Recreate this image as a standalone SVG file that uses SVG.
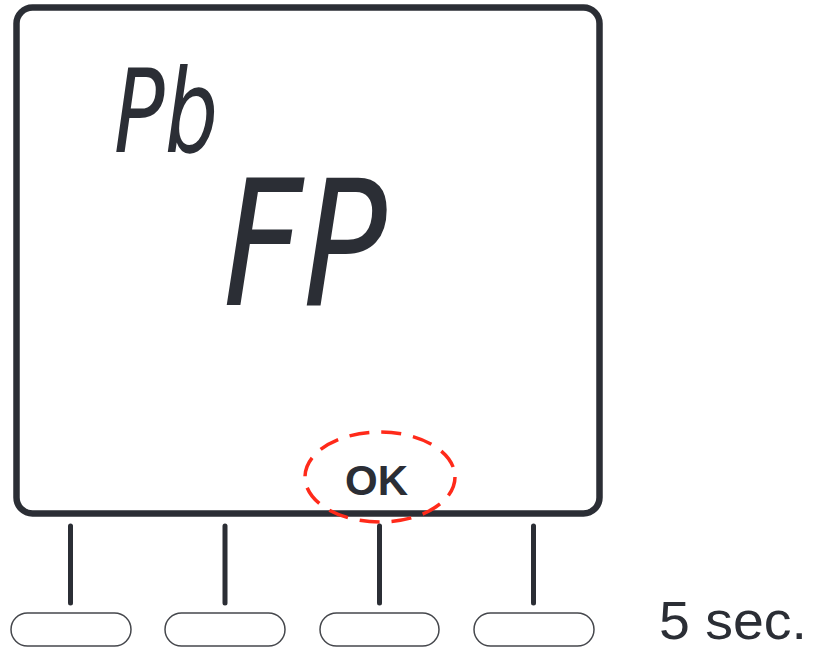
<svg xmlns="http://www.w3.org/2000/svg" width="815" height="650" viewBox="0 0 815 650">
  <style>
    .frame { fill: #ffffff; stroke: #2b2e35; stroke-width: 6.5; }
    .btn { fill: #ffffff; stroke: #45474c; stroke-width: 1.5; }
    .stem { stroke: #2b2e35; stroke-width: 5; stroke-linecap: round; fill: none; }
    .seg { font-family: "DejaVu Sans", "Liberation Sans", sans-serif; font-style: italic; fill: #2b2e35; }
    .ok { font-family: "Liberation Sans", Arial, sans-serif; font-weight: bold; font-size: 42px; fill: #2b2e35; }
    .lbl { font-family: "Liberation Sans", Arial, sans-serif; font-size: 53px; fill: #2b2e35; }
    .hl { fill: none; stroke: #ff2a1a; stroke-width: 3.5; stroke-dasharray: 20 12; }
  </style>
  <g id="display">
    <rect class="frame" x="16.5" y="7.5" width="583" height="506" rx="16" ry="16"/>
    <text class="seg" x="114" y="152" font-size="116" textLength="104" lengthAdjust="spacingAndGlyphs">Pb</text>
    <text class="seg" x="223" y="305" font-size="174" textLength="164" lengthAdjust="spacingAndGlyphs">FP</text>
  </g>
  <g id="ok-highlight">
    <text class="ok" x="376.5" y="495" text-anchor="middle">OK</text>
    <ellipse class="hl" cx="380" cy="477" rx="75" ry="45"/>
  </g>
  <g id="connectors">
    <line class="stem" x1="70.5" y1="526" x2="70.5" y2="603"/>
    <line class="stem" x1="225" y1="526" x2="225" y2="603"/>
    <line class="stem" x1="379.5" y1="526" x2="379.5" y2="603"/>
    <line class="stem" x1="533.5" y1="526" x2="533.5" y2="603"/>
  </g>
  <g id="button1"><rect class="btn" x="11" y="613" width="120" height="33" rx="16.5"/></g>
  <g id="button2"><rect class="btn" x="165" y="613" width="120" height="33" rx="16.5"/></g>
  <g id="button3"><rect class="btn" x="320" y="613" width="119" height="33" rx="16.5"/></g>
  <g id="button4"><rect class="btn" x="474" y="613" width="120" height="33" rx="16.5"/></g>
  <g id="label">
    <text class="lbl" x="659" y="638.5" textLength="148" lengthAdjust="spacingAndGlyphs">5 sec.</text>
  </g>
</svg>
